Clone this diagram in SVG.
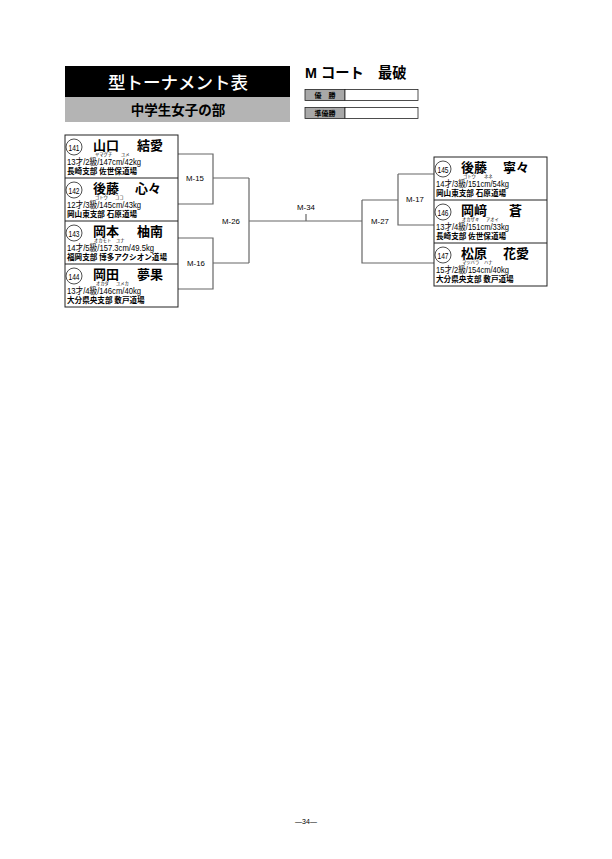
<svg xmlns="http://www.w3.org/2000/svg" width="612" height="859" viewBox="0 0 612 859">
<style>
.bg{fill:#fff}
.box{fill:#fff;stroke:#222;stroke-width:1}
.sep{stroke:#222;stroke-width:1}
.ln{fill:none;stroke:#666;stroke-width:1.2}
.num{font-family:"Liberation Sans","Noto Sans CJK JP",sans-serif;font-size:9.5px;fill:#000;text-anchor:middle}
.circ{fill:#fff;stroke:#222;stroke-width:0.8}
.nm{font-family:"Noto Sans CJK JP",sans-serif;font-weight:700;font-size:13px;fill:#000}
.fu{font-family:"Noto Sans CJK JP",sans-serif;font-size:4.3px;fill:#000}
.inf{font-family:"Liberation Sans","Noto Sans CJK JP",sans-serif;font-size:9px;fill:#000}
.adr{font-family:"Noto Sans CJK JP",sans-serif;font-weight:700;font-size:7.6px;fill:#000}
.ml{font-family:"Liberation Sans Narrow","Liberation Sans",sans-serif;font-size:7.8px;fill:#000;text-anchor:middle}
</style>
<rect class="bg" x="0" y="0" width="612" height="859"/>

<g id="header">
<rect x="65" y="66" width="225" height="31" fill="#000"/>
<text x="178" y="89" font-family="Noto Sans CJK JP,sans-serif" font-weight="500" font-size="17.5" fill="#fff" text-anchor="middle">型トーナメント表</text>
<rect x="65" y="97" width="225" height="25" fill="#b4b4b4"/>
<text x="178" y="115" font-family="Noto Sans CJK JP,sans-serif" font-weight="700" font-size="13.5" fill="#000" text-anchor="middle">中学生女子の部</text>
<text x="305" y="78" font-family="Liberation Sans,Noto Sans CJK JP,sans-serif" font-weight="700" font-size="14.3" fill="#000" xml:space="preserve">M コート　最破</text>
<rect x="305" y="89.5" width="40" height="11" fill="#a8a8a8" stroke="#222" stroke-width="0.8"/>
<rect x="345" y="89.5" width="73" height="11" fill="#fff" stroke="#222" stroke-width="0.8"/>
<text x="325" y="98" font-family="Noto Sans CJK JP,sans-serif" font-weight="700" font-size="7" text-anchor="middle" xml:space="preserve">優　勝</text>
<rect x="305" y="107.5" width="40" height="11" fill="#a8a8a8" stroke="#222" stroke-width="0.8"/>
<rect x="345" y="107.5" width="73" height="11" fill="#fff" stroke="#222" stroke-width="0.8"/>
<text x="325" y="116" font-family="Noto Sans CJK JP,sans-serif" font-weight="700" font-size="7" text-anchor="middle">準優勝</text>
</g>

<g id="connectors">
<path class="ln" d="M178,154 H213 V204 H178"/>
<path class="ln" d="M213,178 H249"/>
<path class="ln" d="M178,238 H213 V289 H178"/>
<path class="ln" d="M213,263 H249"/>
<path class="ln" d="M249,178 V263"/>
<path class="ln" d="M249,221 H362"/>
<path class="ln" d="M306,214 V221"/>
<path class="ln" d="M362,200 V263 H434"/>
<path class="ln" d="M362,200 H398"/>
<path class="ln" d="M398,174 V225 H434"/>
<path class="ln" d="M398,174 H434"/>
<text class="ml" x="195" y="181">M-15</text>
<text class="ml" x="196" y="266">M-16</text>
<text class="ml" x="231" y="224">M-26</text>
<text class="ml" x="306" y="210">M-34</text>
<text class="ml" x="380" y="224">M-27</text>
<text class="ml" x="415" y="202">M-17</text>
</g>

<g id="left-box">
<rect class="box" x="65" y="135" width="113" height="172"/>
<line class="sep" x1="65" y1="178" x2="178" y2="178"/>
<line class="sep" x1="65" y1="221" x2="178" y2="221"/>
<line class="sep" x1="65" y1="264" x2="178" y2="264"/>
</g>

<g id="p141">
<circle class="circ" cx="74" cy="147" r="8"/>
<text class="num" x="74" y="150.5" textLength="11" lengthAdjust="spacingAndGlyphs">141</text>
<text class="nm" x="93" y="150">山口</text>
<text class="nm" x="137" y="150">結愛</text>
<text class="fu" x="95" y="156">ヤマグチ</text>
<text class="fu" x="121" y="156">ユメ</text>
<text class="inf" x="67" y="165" textLength="74" lengthAdjust="spacingAndGlyphs">13才/2級/147cm/42kg</text>
<text class="adr" x="67" y="173.5">長崎支部 佐世保道場</text>
</g>

<g id="p142">
<circle class="circ" cx="74" cy="190" r="8"/>
<text class="num" x="74" y="193.5" textLength="11" lengthAdjust="spacingAndGlyphs">142</text>
<text class="nm" x="93" y="193">後藤</text>
<text class="nm" x="135" y="193">心々</text>
<text class="fu" x="95" y="199">ゴトウ</text>
<text class="fu" x="115" y="199">ココ</text>
<text class="inf" x="67" y="208" textLength="74" lengthAdjust="spacingAndGlyphs">12才/3級/145cm/43kg</text>
<text class="adr" x="67" y="216.5">岡山東支部 石原道場</text>
</g>

<g id="p143">
<circle class="circ" cx="74" cy="233" r="8"/>
<text class="num" x="74" y="236.5" textLength="11" lengthAdjust="spacingAndGlyphs">143</text>
<text class="nm" x="93" y="236">岡本</text>
<text class="nm" x="137" y="236">柚南</text>
<text class="fu" x="94" y="242">オカモト</text>
<text class="fu" x="116" y="242">ユナ</text>
<text class="inf" x="67" y="251" textLength="87" lengthAdjust="spacingAndGlyphs">14才/5級/157.3cm/49.5kg</text>
<text class="adr" x="67" y="259.5">福岡支部 博多アクシオン道場</text>
</g>

<g id="p144">
<circle class="circ" cx="74" cy="276" r="8"/>
<text class="num" x="74" y="279.5" textLength="11" lengthAdjust="spacingAndGlyphs">144</text>
<text class="nm" x="93" y="279">岡田</text>
<text class="nm" x="137" y="279">夢果</text>
<text class="fu" x="96" y="285">オカダ</text>
<text class="fu" x="116" y="285">ユメカ</text>
<text class="inf" x="67" y="294" textLength="74" lengthAdjust="spacingAndGlyphs">13才/4級/146cm/40kg</text>
<text class="adr" x="67" y="302.5">大分県央支部 敷戸道場</text>
</g>

<g id="right-box">
<rect class="box" x="434" y="157" width="113" height="129"/>
<line class="sep" x1="434" y1="200" x2="547" y2="200"/>
<line class="sep" x1="434" y1="243" x2="547" y2="243"/>
</g>

<g id="p145">
<circle class="circ" cx="443" cy="169" r="8"/>
<text class="num" x="443" y="172.5" textLength="11" lengthAdjust="spacingAndGlyphs">145</text>
<text class="nm" x="461" y="172">後藤</text>
<text class="nm" x="503" y="172">寧々</text>
<text class="fu" x="463" y="178">ゴトウ</text>
<text class="fu" x="484" y="178">ネネ</text>
<text class="inf" x="436" y="187" textLength="73" lengthAdjust="spacingAndGlyphs">14才/3級/151cm/54kg</text>
<text class="adr" x="436" y="195.5">岡山東支部 石原道場</text>
</g>

<g id="p146">
<circle class="circ" cx="443" cy="212" r="8"/>
<text class="num" x="443" y="215.5" textLength="11" lengthAdjust="spacingAndGlyphs">146</text>
<text class="nm" x="461" y="215">岡﨑</text>
<text class="nm" x="509" y="215">蒼</text>
<text class="fu" x="462" y="221">オカザキ</text>
<text class="fu" x="486" y="221">アオイ</text>
<text class="inf" x="436" y="230" textLength="73" lengthAdjust="spacingAndGlyphs">13才/4級/151cm/33kg</text>
<text class="adr" x="436" y="238.5">長崎支部 佐世保道場</text>
</g>

<g id="p147">
<circle class="circ" cx="443" cy="255" r="8"/>
<text class="num" x="443" y="258.5" textLength="11" lengthAdjust="spacingAndGlyphs">147</text>
<text class="nm" x="461" y="258">松原</text>
<text class="nm" x="503" y="258">花愛</text>
<text class="fu" x="462" y="264">マツバラ</text>
<text class="fu" x="484" y="264">ハナ</text>
<text class="inf" x="436" y="273" textLength="73" lengthAdjust="spacingAndGlyphs">15才/2級/154cm/40kg</text>
<text class="adr" x="436" y="281.5">大分県央支部 敷戸道場</text>
</g>

<text x="306" y="824" font-family="Liberation Sans,sans-serif" font-size="7" text-anchor="middle">—34—</text>
</svg>
